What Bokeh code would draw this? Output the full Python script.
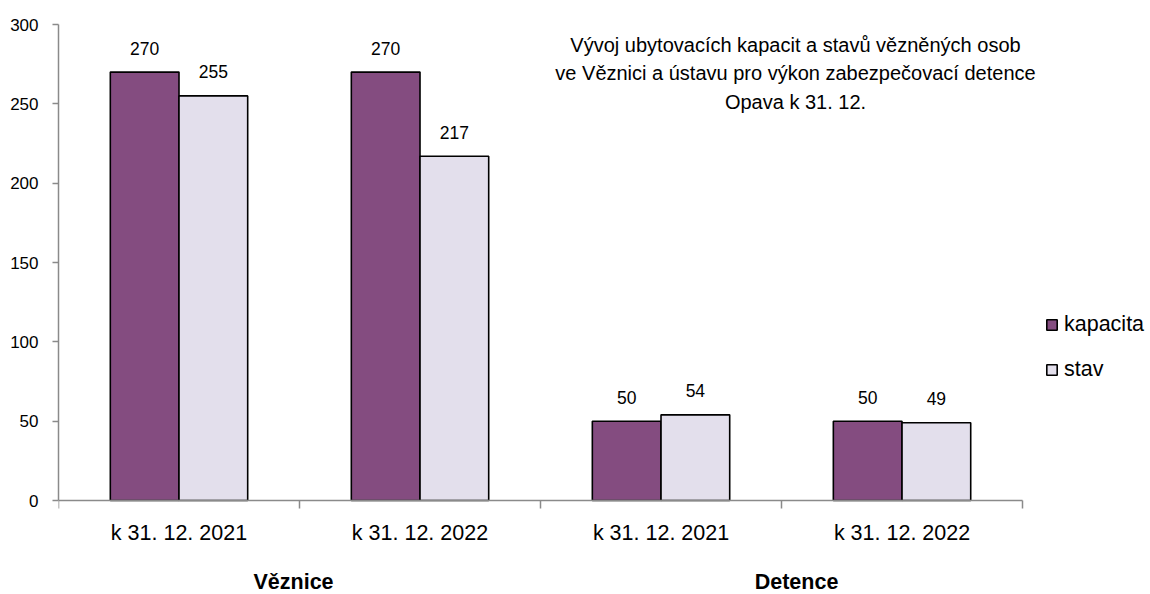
from bokeh.plotting import figure
from bokeh.models import Range1d, FixedTicker, Label, Legend, LegendItem, LinearAxis
from bokeh.core.properties import value
from bokeh.embed import file_html
from bokeh.resources import INLINE

# ---- data ----
groups = ["Věznice", "Detence"]
dates = ["k 31. 12. 2021", "k 31. 12. 2022", "k 31. 12. 2021", "k 31. 12. 2022"]
kapacita = [270, 270, 50, 50]
stav = [255, 217, 54, 49]
series_names = ["kapacita", "stav"]
y_ticks = [0, 50, 100, 150, 200, 250, 300]
title_lines = [
    "Vývoj ubytovacích kapacit a stavů vězněných osob",
    "ve Věznici a ústavu pro výkon zabezpečovací detence",
    "Opava k 31. 12.",
]

# ---- style ----
FONT = "Liberation Sans, Arial, sans-serif"
C_KAP = "#844C80"
C_STAV = "#E3DFEC"
AXIS_C = "#8a8a8a"
BAR_W = 0.285
OFF = 0.1425
N = len(dates)
GROUP_LABEL_SHIFT = [-6, 15]

p = figure(width=1150, height=594, output_backend="svg", toolbar_location=None,
           x_range=Range1d(0, 4.531), y_range=Range1d(-59.2, 300),
           x_axis_location=None,
           min_border_left=58, min_border_right=0, min_border_top=24, min_border_bottom=0)
p.outline_line_color = None
p.grid.visible = False
p.background_fill_color = "white"
p.border_fill_color = "white"

centers = [i + 0.5 for i in range(N)]
r1 = p.vbar(x=[c - OFF for c in centers], top=kapacita, width=BAR_W,
            fill_color=C_KAP, line_color="black", line_width=1.6)
r2 = p.vbar(x=[c + OFF for c in centers], top=stav, width=BAR_W,
            fill_color=C_STAV, line_color="black", line_width=1.6)

# data labels
p.text(x=[c - OFF for c in centers], y=kapacita, text=[str(v) for v in kapacita],
       text_font=value(FONT), text_font_size="17.5px", text_color="black",
       text_align="center", text_baseline="middle", y_offset=-24)
p.text(x=[c + OFF for c in centers], y=stav, text=[str(v) for v in stav],
       text_font=value(FONT), text_font_size="17.5px", text_color="black",
       text_align="center", text_baseline="middle", y_offset=-24)

# y axis
ya = p.yaxis[0]
ya.ticker = FixedTicker(ticks=y_ticks)
ya.bounds = (0, 300)
ya.axis_line_color = AXIS_C
ya.axis_line_width = 1.5
ya.major_tick_line_color = AXIS_C
ya.major_tick_line_width = 1.5
ya.major_tick_out = 6
ya.major_tick_in = 0
ya.minor_tick_line_color = None
ya.major_label_text_font = FONT
ya.major_label_text_font_size = "17px"
ya.major_label_text_color = "black"
ya.major_label_standoff = 14

# x axis at y=0: ticks at category boundaries, no labels
xa = LinearAxis(fixed_location=0, bounds=(0, N),
                ticker=FixedTicker(ticks=list(range(N + 1))),
                major_label_overrides={i: "" for i in range(N + 1)},
                axis_line_color=AXIS_C, axis_line_width=1.5,
                major_tick_line_color=AXIS_C, major_tick_line_width=1.5,
                major_tick_out=8, major_tick_in=0, minor_tick_line_color=None,
                major_label_text_font_size="1px")
p.add_layout(xa, "below")

# category labels
for c, d in zip(centers, dates):
    p.add_layout(Label(x=c, y=-20.3, text=d, text_font=FONT, text_font_size="21.5px",
                       text_color="black", text_align="center", text_baseline="middle"))
# group labels
n_per = N // len(groups)
for gi, g in enumerate(groups):
    gx = gi * n_per + n_per / 2
    p.add_layout(Label(x=gx, y=-51.6, x_offset=GROUP_LABEL_SHIFT[gi], text=g,
                       text_font=FONT, text_font_size="21.5px",
                       text_font_style="bold", text_color="black",
                       text_align="center", text_baseline="middle"))

# title
for ty, line in zip([287.1, 269.2, 251.4], title_lines):
    p.add_layout(Label(x=3.058, y=ty, text=line, text_font=FONT, text_font_size="20px",
                       text_color="black", text_align="center", text_baseline="middle"))

# legends (one per item for exact placement)
for r, name, top in [(r1, series_names[0], 257), (r2, series_names[1], 212)]:
    lg = Legend(items=[LegendItem(label=name, renderers=[r])], location=(987, top),
                padding=0, margin=0, border_line_color=None, background_fill_alpha=0,
                glyph_width=13, glyph_height=13, label_standoff=6,
                label_text_font=FONT, label_text_font_size="21.5px",
                label_text_color="black")
    p.add_layout(lg, "center")

open("out.html", "w").write(file_html(p, INLINE))
